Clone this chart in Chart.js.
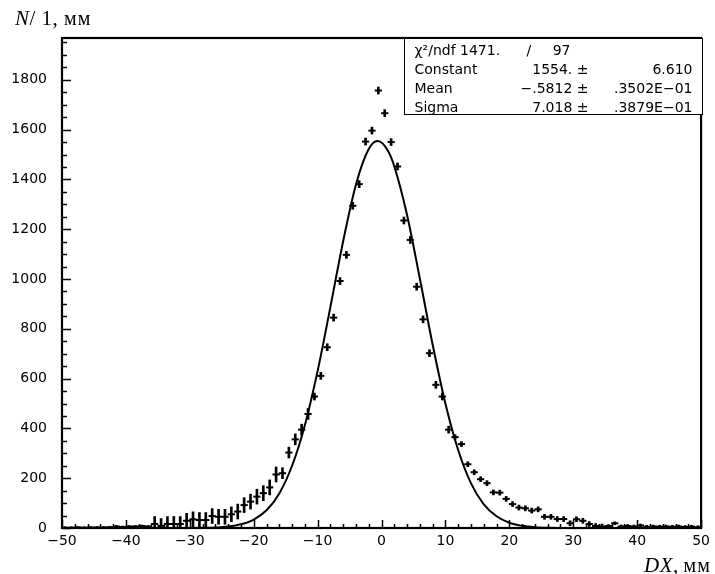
<!DOCTYPE html>
<html>
<head>
<meta charset="utf-8">
<title>DX distribution</title>
<script src="https://cdn.jsdelivr.net/npm/chart.js@4.4.1/dist/chart.umd.min.js"></script>
<style>
  body { margin: 0; background: #fff; }
  #wrap { position: relative; width: 715px; height: 574px; }
  .axtitle { position: absolute; font-family: "Liberation Serif", serif; font-size: 21px; color: #000; line-height: 1; white-space: nowrap; }
  .axtitle i { letter-spacing: 0.5px; }
  .axtitle .mm { font-size: 20px; letter-spacing: 1px; }
  #ytitle { left: 15px; top: 8px; letter-spacing: 0.5px; }
  #xtitle { left: 644px; top: 555px; }
  #stats { position: absolute; left: 404px; top: 38px; width: 299px; height: 77px; box-sizing: border-box;
           border: 1.5px solid #000; background: #fff; font-family: "DejaVu Sans", sans-serif; font-size: 14px; color: #000; }
  #stats span { position: absolute; line-height: 19px; white-space: nowrap; }
</style>
</head>
<body>
<div id="wrap">
  <canvas id="chart" width="715" height="574"></canvas>
  <div class="axtitle" id="ytitle"><i>N</i>/ 1, <span class="mm">мм</span></div>
  <div class="axtitle" id="xtitle"><i>DX</i>, <span class="mm">мм</span></div>
  <div id="stats"></div>
</div>
<script>
// histogram: 1 mm bins from -50 to 50
const binStart = -50;
const binWidth = 1;
const counts = [
  1, 1, 2, 1, 2, 2, 2, 3, 6, 4,            // -50 .. -40
  6, 6, 8, 6, 16, 8, 16, 16, 16, 29,       // -40 .. -30
  35, 32, 32, 48, 45, 45, 55, 66, 92, 106, // -30 .. -20
  126, 140, 163, 215, 220, 303, 356, 395, 458, 528,   // -20 .. -10
  611, 726, 845, 992, 1097, 1294, 1381, 1552, 1596, 1757, // -10 .. 0
  1666, 1550, 1452, 1235, 1157, 969, 838, 702, 575, 528,  // 0 .. 10
  395, 365, 337, 256, 224, 196, 180, 143, 142, 117,   // 10 .. 20
  96, 82, 79, 70, 75, 45, 45, 36, 36, 19,  // 20 .. 30
  35, 29, 16, 8, 6, 8, 19, 6, 8, 6,        // 30 .. 40
  10, 5, 6, 5, 6, 5, 6, 4, 5, 3            // 40 .. 50
];
const errors = [
  4, 4, 4, 4, 4, 4, 4, 4, 4, 4,
  4, 4, 4, 4, 30, 30, 30, 30, 30, 30,
  30, 30, 30, 30, 30, 30, 30, 30, 30, 30,
  30, 30, 30, 30, 22, 22, 22, 22, 22, 14,
  14, 14, 14, 14, 14, 14, 14, 14, 14, 14,
  14, 14, 14, 14, 14, 14, 14, 14, 14, 14,
  14, 10, 10, 10, 10, 10, 10, 10, 10, 10,
  10, 10, 10, 10, 10, 10, 10, 10, 10, 10,
  10, 10, 10, 10, 10, 6, 6, 6, 6, 6,
  6, 6, 6, 6, 6, 6, 6, 6, 6, 6
];

// gaussian fit curve
const fitX = [-50, -30, -28, -26, -24, -22, -20, -18, -16, -14, -12, -10, -8, -6, -4, -2, -0.6, 1, 2,
              4, 6, 8, 10, 12, 14, 16, 18, 20, 22, 24, 26, 28, 30, 50];
const fitY = [0, 0.2, 0.8, 2.2, 5.9, 14.8, 33.8, 71, 139, 250, 413, 631, 888, 1153, 1380, 1522, 1554, 1515, 1452,
              1256, 1001, 736, 499, 312, 179, 95, 47, 21, 9, 3.4, 1.2, 0.4, 0.1, 0];

// axis labels
const xTickValues = [-50, -40, -30, -20, -10, 0, 10, 20, 30, 40, 50];
const yTickValues = [0, 200, 400, 600, 800, 1000, 1200, 1400, 1600, 1800];

// fit statistics box
const chi2 = '1471.';
const ndf = '97';
const statNames = ['Constant', 'Mean', 'Sigma'];
const statValues = ['1554. \u00b1', '\u2212.5812 \u00b1', '7.018 \u00b1'];
const statErrors = ['6.610', '.3502E\u221201', '.3879E\u221201'];

const xMin = -50, xMax = 50, yMin = 0, yMax = 1968;

const points = counts.map((c, i) => ({ x: binStart + binWidth * (i + 0.5), y: c }));
const errBars = counts.map((c, i) => ({ x: binStart + binWidth * (i + 0.5), y: [c - errors[i], c + errors[i]] }));
const fitLine = fitX.map((x, i) => ({ x: x, y: fitY[i] }));

// PAW style frame with inward ticks
const frameTicks = {
  id: 'frameTicks',
  afterDatasetsDraw(chart) {
    const { ctx, chartArea: a, scales: { x, y } } = chart;
    ctx.save();
    ctx.strokeStyle = '#000';
    ctx.lineWidth = 1.5;
    ctx.beginPath();
    for (let v = xMin; v <= xMax; v += 2) {
      const px = Math.round(x.getPixelForValue(v)) + 0.5;
      const len = v % 10 === 0 ? 8 : 4;
      ctx.moveTo(px, a.bottom);
      ctx.lineTo(px, a.bottom - len);
    }
    for (let v = yMin; v <= yMax; v += 50) {
      const py = Math.round(y.getPixelForValue(v)) + 0.5;
      const len = v % 200 === 0 ? 9 : 5;
      ctx.moveTo(a.left, py);
      ctx.lineTo(a.left + len, py);
    }
    ctx.stroke();
    ctx.lineWidth = 2.2;
    ctx.strokeRect(a.left, a.top, a.right - a.left, a.bottom - a.top);
    ctx.restore();
  }
};

const minus = v => String(v).replace('-', '\u2212');

new Chart(document.getElementById('chart'), {
  type: 'scatter',
  data: {
    datasets: [
      {
        type: 'line',
        data: fitLine,
        borderColor: '#000',
        borderWidth: 2,
        pointRadius: 0,
        cubicInterpolationMode: 'monotone',
        fill: false
      },
      {
        type: 'bar',
        data: errBars,
        backgroundColor: '#000',
        barThickness: 2,
        borderWidth: 0
      },
      {
        type: 'scatter',
        data: points,
        pointStyle: 'line',
        pointRadius: 3.6,
        borderColor: '#000',
        backgroundColor: '#000',
        borderWidth: 2
      }
    ]
  },
  options: {
    responsive: false,
    animation: false,
    devicePixelRatio: 1,
    layout: { padding: { top: 38, right: 13, left: 0, bottom: 0 } },
    plugins: { legend: { display: false }, tooltip: { enabled: false } },
    scales: {
      x: {
        type: 'linear',
        min: xMin, max: xMax,
        offset: false,
        grid: { display: false, drawTicks: false, offset: false },
        border: { display: false },
        afterFit(s) { s.height = 46; },
        afterBuildTicks(s) { s.ticks = xTickValues.map(v => ({ value: v })); },
        ticks: {
          padding: 5,
          color: '#000',
          font: { family: 'DejaVu Sans', size: 14 },
          maxRotation: 0,
          autoSkip: false,
          callback: minus
        }
      },
      y: {
        type: 'linear',
        min: yMin, max: yMax,
        grid: { display: false, drawTicks: false },
        border: { display: false },
        afterFit(s) { s.width = 62; },
        afterBuildTicks(s) { s.ticks = yTickValues.map(v => ({ value: v })); },
        ticks: {
          padding: 15,
          color: '#000',
          font: { family: 'DejaVu Sans', size: 14 },
          autoSkip: false,
          callback: minus
        }
      }
    }
  },
  plugins: [frameTicks]
});

// stats box text
const box = document.getElementById('stats');
function put(text, top, side, off) {
  const s = document.createElement('span');
  s.textContent = text;
  s.style.top = top + 'px';
  s.style[side] = off + 'px';
  box.appendChild(s);
}
put('\u03c7\u00b2/ndf ' + chi2, 2, 'left', 9.5);
put('/', 2, 'left', 121.5);
put(ndf, 2, 'right', 131.5);
statNames.forEach((n, i) => {
  const top = 2 + 19 * (i + 1);
  put(n, top, 'left', 9.5);
  put(statValues[i], top, 'right', 113.5);
  put(statErrors[i], top, 'right', 9.5);
});
</script>
</body>
</html>
